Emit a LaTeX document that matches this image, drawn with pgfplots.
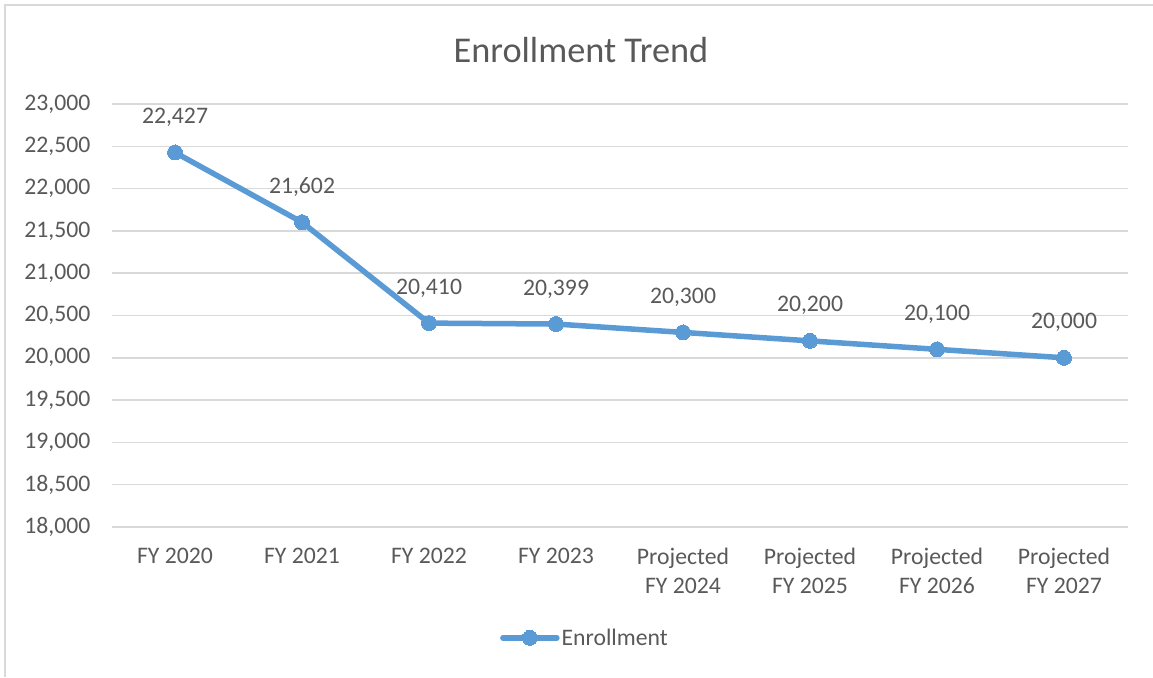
\documentclass[border=0pt]{standalone}
\usepackage{pgfplots}
\pgfplotsset{compat=1.18}
\usepackage{fontspec}
\setmainfont{Carlito}
\definecolor{ln}{HTML}{5B9BD5}
\definecolor{tx}{HTML}{595959}
\definecolor{gr}{HTML}{D9D9D9}
\begin{document}
\begin{tikzpicture}[x=1pt,y=1pt]
\path[use as bounding box] (0,0) rectangle (1153,677);
\draw[gr, line width=2pt] (5,0) -- (5,672) -- (1153,672);
\node[text=tx, font=\fontsize{36.3}{40}\selectfont] at (581,627) {Enrollment Trend};
\begin{axis}[
  at={(111.5pt,150pt)}, anchor=south west, scale only axis,
  width=1016pt, height=423pt,
  xmin=-0.5, xmax=7.5, ymin=18000, ymax=23000,
  ytick={18000,18500,...,23000},
  xtick={0,...,7},
  xticklabels={FY 2020, FY 2021, FY 2022, FY 2023, Projected\\FY 2024, Projected\\FY 2025, Projected\\FY 2026, Projected\\FY 2027},
  xticklabel style={align=center, font=\fontsize{23.7}{29}\selectfont, text=tx, anchor=north, inner sep=0pt, yshift=-21pt},
  yticklabel style={font=\fontsize{23.7}{29}\selectfont, text=tx, anchor=east, inner sep=0pt, xshift=-21pt},
  /pgf/number format/1000 sep={,},
  /pgf/number format/assume math mode=true,
  scaled y ticks=false,
  axis line style={draw=none},
  major tick style={draw=none},
  ymajorgrids, grid style={gr, line width=1.5pt},
  nodes near coords,
  every node near coord/.style={font=\fontsize{23.7}{29}\selectfont, text=tx, anchor=base, inner sep=0pt, yshift=29pt},
  legend style={at={(0.466,-0.262)}, anchor=center, draw=none, fill=none, font=\fontsize{23.7}{29}\selectfont, text=tx},
  legend image code/.code={\draw[mark repeat=2, mark phase=2] plot coordinates {(0pt,0pt) (27pt,0pt) (54pt,0pt)};},
]
\addplot[color=ln, line width=5.5pt, line cap=round, line join=round, mark=*, mark size=7.5pt, mark options={fill=ln, draw=ln, line width=0pt}]
coordinates {(0,22427) (1,21602) (2,20410) (3,20399) (4,20300) (5,20200) (6,20100) (7,20000)};
\addlegendentry{Enrollment}
\end{axis}
\end{tikzpicture}
\end{document}
